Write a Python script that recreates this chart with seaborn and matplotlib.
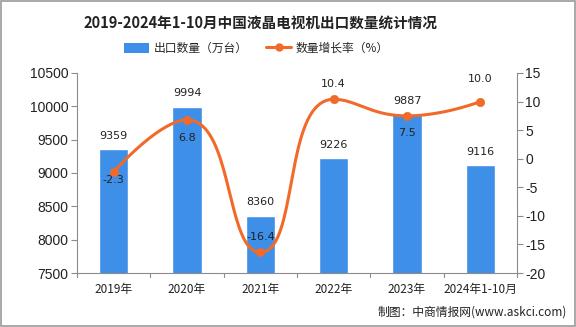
import numpy as np
import pandas as pd
import matplotlib
matplotlib.use("Agg")
import matplotlib.pyplot as plt
from matplotlib.lines import Line2D
from matplotlib.patches import Patch, Rectangle
import seaborn as sns

# Data
categories = ["2019年", "2020年", "2021年", "2022年", "2023年", "2024年1-10月"]
export_volume = [9359, 9994, 8360, 9226, 9887, 9116]      # 万台
growth_rate = [-2.3, 6.8, -16.4, 10.4, 7.5, 10.0]          # %
left_ticks = [7500, 8000, 8500, 9000, 9500, 10000, 10500]
right_ticks = [-20, -15, -10, -5, 0, 5, 10, 15]

title = "2019-2024年1-10月中国液晶电视机出口数量统计情况"
bar_name = "出口数量（万台）"
line_name = "数量增长率（%）"
source = "制图：中商情报网(www.askci.com)"

BAR_COLOR = "#3d8fe8"
LINE_COLOR = "#f26a2a"
AXIS_COLOR = "#8c8c8c"
TEXT_COLOR = "#222222"

sns.set_theme(style="white")
plt.rcParams["font.family"] = ["Noto Sans CJK SC", "DejaVu Sans"]
plt.rcParams["axes.unicode_minus"] = False

df = pd.DataFrame({"category": categories, "volume": export_volume, "rate": growth_rate})

fig = plt.figure(figsize=(5.76, 3.27), dpi=100)
ax = fig.add_axes([0.1337, 0.1651, 0.7639, 0.6117])

sns.barplot(data=df, x="category", y="volume", color=BAR_COLOR, width=0.4,
            saturation=1, ax=ax, bottom=0)
ax.set_ylim(7500, 10500)
ax.set_xlim(-0.5, len(categories) - 0.5)
ax.set_yticks(left_ticks)
ax.set_yticklabels([str(t) for t in left_ticks], fontsize=10, color=TEXT_COLOR,
                   family=["Liberation Sans", "DejaVu Sans"])
ax.set_xlabel("")
ax.set_ylabel("")
ax.set_xticks(range(len(categories)))
ax.set_xticklabels(categories, fontsize=8.5, color=TEXT_COLOR)
ax.tick_params(axis="x", length=0, pad=7)
ax.tick_params(axis="y", length=4, width=0.8, color=AXIS_COLOR, pad=2, left=True)
for x in np.arange(-0.5, len(categories), 1.0):
    ax.plot([x, x], [0, -0.02], transform=ax.get_xaxis_transform(),
            color=AXIS_COLOR, lw=0.8, clip_on=False)
for side in ["top", "right"]:
    ax.spines[side].set_visible(False)
for side in ["left", "bottom"]:
    ax.spines[side].set_color(AXIS_COLOR)
    ax.spines[side].set_linewidth(0.8)

# bar value labels
for i, v in enumerate(export_volume):
    ax.annotate(f"{v}", (i, v), xytext=(0, 6), textcoords="offset points",
                ha="center", va="bottom", fontsize=8, color=TEXT_COLOR,
                family="DejaVu Sans")

# growth rate on secondary axis
ax2 = ax.twinx()
ax2.set_ylim(-20, 15)
ax2.set_yticks(right_ticks)
ax2.set_yticklabels([str(t) for t in right_ticks], fontsize=10, color=TEXT_COLOR,
                    family=["Liberation Sans", "DejaVu Sans"])
ax2.tick_params(axis="y", length=4, width=0.8, color=AXIS_COLOR, pad=2, right=True)
for side in ["top", "left", "bottom"]:
    ax2.spines[side].set_visible(False)
ax2.spines["right"].set_color(AXIS_COLOR)
ax2.spines["right"].set_linewidth(0.8)


def smooth_curve(axis, xs, ys, smooth=0.5, n=40):
    """Constrained Bezier smoothing (control points kept inside each segment's box)."""
    pts = axis.transData.transform(np.column_stack([xs, ys]))
    count = len(pts)
    cp0 = [None] * count   # outgoing control point
    cp1 = [None] * count   # incoming control point
    cp0[0] = pts[0].copy()
    cp1[-1] = pts[-1].copy()
    for i in range(1, count - 1):
        x, y = pts[i]
        px, py = pts[i - 1]
        nx, ny = pts[i + 1]
        vx, vy = nx - px, ny - py
        len_prev = np.hypot(x - px, y - py)
        len_next = np.hypot(nx - x, ny - y)
        r = len_next / (len_next + len_prev)
        ncx = x + vx * smooth * r
        ncy = y + vy * smooth * r
        ncx = max(min(ncx, max(nx, x)), min(nx, x))
        ncy = max(min(ncy, max(ny, y)), min(ny, y))
        vx, vy = ncx - x, ncy - y
        c1x = x - vx * len_prev / len_next
        c1y = y - vy * len_prev / len_next
        c1x = max(min(c1x, max(px, x)), min(px, x))
        c1y = max(min(c1y, max(py, y)), min(py, y))
        vx, vy = x - c1x, y - c1y
        ncx = x + vx * len_next / len_prev
        ncy = y + vy * len_next / len_prev
        cp1[i] = np.array([c1x, c1y])
        cp0[i] = np.array([ncx, ncy])
    t = np.linspace(0, 1, n)[:, None]
    segs = []
    for i in range(count - 1):
        p0, p1, p2, p3 = pts[i], cp0[i], cp1[i + 1], pts[i + 1]
        segs.append((1 - t) ** 3 * p0 + 3 * (1 - t) ** 2 * t * p1
                    + 3 * (1 - t) * t ** 2 * p2 + t ** 3 * p3)
    curve = axis.transData.inverted().transform(np.vstack(segs))
    return curve[:, 0], curve[:, 1]


xpos = np.arange(len(categories))
sx, sy = smooth_curve(ax2, xpos, growth_rate)
ax2.plot(sx, sy, color=LINE_COLOR, lw=2.2, solid_capstyle="round", zorder=3)
sns.scatterplot(x=xpos, y=growth_rate, color=LINE_COLOR, s=36, edgecolor=LINE_COLOR,
                ax=ax2, zorder=4, legend=False)

# rate labels, offset from the marker (points)
rate_offsets = [-6, -13, 11, 11, -12, 16]
for i, (r, off) in enumerate(zip(growth_rate, rate_offsets)):
    ax2.annotate(f"{r:.1f}", (i, r), xytext=(0, off), textcoords="offset points",
                 ha="center", va="center", fontsize=8, color=TEXT_COLOR,
                 family="DejaVu Sans")

# title, legend, source
fig.text(0.453, 0.93, title, ha="center", va="center", fontsize=10.5,
         fontweight="bold", color=TEXT_COLOR)
handles = [Patch(facecolor=BAR_COLOR, edgecolor="none"),
           Line2D([0], [0], color=LINE_COLOR, lw=2.2, marker="o", markersize=5)]
fig.legend(handles, [bar_name, line_name], loc="center", bbox_to_anchor=(0.445, 0.852),
           ncol=2, frameon=False, fontsize=8.5, handlelength=2.1, handleheight=0.9,
           columnspacing=1.6, handletextpad=0.4)
fig.text(0.985, 0.045, source, ha="right", va="center", fontsize=8.5, color=TEXT_COLOR)

# outer frame
fig.patches.append(Rectangle((0.002, 0.003), 0.996, 0.994, transform=fig.transFigure,
                             fill=False, edgecolor="#9a9a9a", lw=1.2))

fig.savefig("out.png", dpi=100)
